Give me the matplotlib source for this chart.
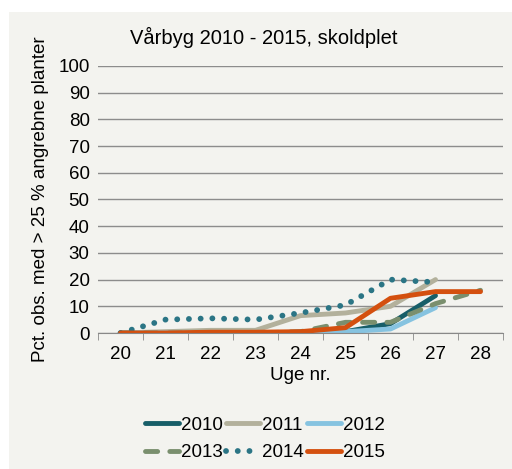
import numpy as np
import matplotlib.pyplot as plt

plt.rcParams['font.family'] = ['Liberation Sans', 'DejaVu Sans']

weeks = [20, 21, 22, 23, 24, 25, 26, 27, 28]
y2010 = [0, 0, 0, 0, 0.3, 0.5, 3.5, 14, None]
y2011 = [0, 0.5, 1, 1, 6.5, 7.5, 10, 20, None]
y2012 = [0, 0, 0, 0, 0.2, 0.5, 1.5, 9.5, None]
y2013 = [0, 0, 0, 0, 0.5, 4, 4, 11, 16]
y2014 = [0, 5, 5.5, 5, 7.5, 10.5, 20, 19, None]
y2015 = [0, 0, 0.3, 0.3, 0.5, 2, 13, 15.5, 15.5]

bg = '#F3F3EF'
fig = plt.figure(figsize=(5.12, 4.69), dpi=100, facecolor='white')
fig.patches.append(plt.Rectangle((9 / 512, 0), 1, 1 - 12 / 469, transform=fig.transFigure,
                                 facecolor=bg, edgecolor='none', zorder=-10))
ax = fig.add_axes([98 / 512, 1 - 333 / 469, (503 - 98) / 512, (333 - 66) / 469])
ax.set_facecolor(bg)

x = np.arange(len(weeks))

def plot(vals, **kw):
    v = np.array([np.nan if a is None else a for a in vals], dtype=float)
    return ax.plot(x, v, solid_capstyle='round', dash_capstyle='round', **kw)[0]

h10 = plot(y2010, color='#175E68', lw=3.5, label='2010')
h11 = plot(y2011, color='#B3B19C', lw=3.5, label='2011')
h12 = plot(y2012, color='#86C3E0', lw=3.5, label='2012')
h13 = plot(y2013, color='#7A8F6E', lw=3.5, ls=(0, (2.5, 2.5)), label='2013')
h14 = plot(y2014, color='#2B7585', lw=4.2, ls=(0, (0.01, 2.0)), label='2014')
h15 = plot(y2015, color='#D4500F', lw=3.5, label='2015')

ax.set_xlim(-0.5, len(weeks) - 0.5)
ax.set_ylim(0, 100)
ax.set_yticks(range(0, 101, 10))
ax.set_xticks(x)
ax.set_xticklabels([str(w) for w in weeks])
ax.set_xticks(np.arange(-0.5, len(weeks), 1), minor=True)
ax.tick_params(axis='x', which='major', length=0, labelsize=13.5, pad=9)
ax.tick_params(axis='x', which='minor', length=5, color='#888888', direction='out')
ax.tick_params(axis='y', length=0, labelsize=13.5, pad=6)
ax.yaxis.grid(True, color='#8C8C8C', lw=1)
ax.set_axisbelow(True)
for s in ['top', 'right', 'left']:
    ax.spines[s].set_visible(False)
ax.spines['bottom'].set_color('#888888')

ax.set_xlabel('Uge nr.', fontsize=13.5, labelpad=3)
ax.set_ylabel('Pct. obs. med > 25 % angrebne planter', fontsize=13.5, labelpad=7)
fig.text(264 / 512, 1 - 37 / 469, 'Vårbyg 2010 - 2015, skoldplet', ha='center', va='center', fontsize=14.5)

# column-wise fill -> reorder so rows read 2010 2011 2012 / 2013 2014 2015
handles = [h10, h13, h11, h14, h12, h15]
fig.legend(handles=handles, labels=[h.get_label() for h in handles], loc='center',
           bbox_to_anchor=(265 / 512, 1 - 439 / 469), ncol=3, frameon=False,
           fontsize=13.5, handlelength=1.8, handletextpad=0.1, columnspacing=0.2, labelspacing=0.55)

fig.savefig('out.png', dpi=100, facecolor='white')
